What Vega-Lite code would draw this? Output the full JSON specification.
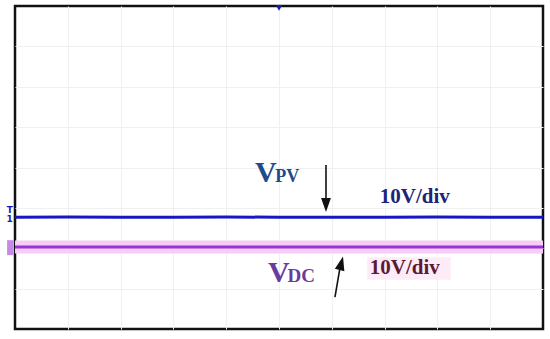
{
  "$schema": "https://vega.github.io/schema/vega-lite/v6.json",
  "width": 528,
  "height": 323,
  "autosize": {"type": "none"},
  "padding": {"left": 15, "top": 6, "right": 7, "bottom": 10},
  "background": "white",
  "config": {
    "view": {"stroke": "#111111", "strokeWidth": 2.5},
    "axis": {"labels": false, "ticks": false, "domain": false, "title": null, "grid": true, "gridColor": "#f0f0f0", "gridWidth": 1}
  },
  "datasets": {
    "traces": [
      {"t": 0.0, "v": 2.77, "ch": "PV"}, {"t": 1.0, "v": 2.772, "ch": "PV"}, {"t": 2.0, "v": 2.768, "ch": "PV"},
      {"t": 3.0, "v": 2.77, "ch": "PV"}, {"t": 4.0, "v": 2.772, "ch": "PV"}, {"t": 5.0, "v": 2.77, "ch": "PV"},
      {"t": 6.0, "v": 2.768, "ch": "PV"}, {"t": 7.0, "v": 2.77, "ch": "PV"}, {"t": 8.0, "v": 2.772, "ch": "PV"},
      {"t": 9.0, "v": 2.77, "ch": "PV"}, {"t": 10.0, "v": 2.77, "ch": "PV"},
      {"t": 0.0, "v": 2.03, "ch": "DC"}, {"t": 1.0, "v": 2.028, "ch": "DC"}, {"t": 2.0, "v": 2.032, "ch": "DC"},
      {"t": 3.0, "v": 2.03, "ch": "DC"}, {"t": 4.0, "v": 2.028, "ch": "DC"}, {"t": 5.0, "v": 2.03, "ch": "DC"},
      {"t": 6.0, "v": 2.032, "ch": "DC"}, {"t": 7.0, "v": 2.03, "ch": "DC"}, {"t": 8.0, "v": 2.028, "ch": "DC"},
      {"t": 9.0, "v": 2.03, "ch": "DC"}, {"t": 10.0, "v": 2.03, "ch": "DC"}
    ],
    "labels": [
      {"x": 4.545, "y": 3.64, "text": "V", "size": 30, "color": "#1f4a8e"},
      {"x": 4.93, "y": 3.64, "text": "PV", "size": 18, "color": "#1f4a8e"},
      {"x": 4.79, "y": 1.16, "text": "V", "size": 30, "color": "#6b3a9e"},
      {"x": 5.16, "y": 1.16, "text": "DC", "size": 19, "color": "#6b3a9e"},
      {"x": 6.91, "y": 3.12, "text": "10V/div", "size": 21, "color": "#1c2478"},
      {"x": 6.72, "y": 1.36, "text": "10V/div", "size": 21, "color": "#5e1a34"}
    ],
    "shafts": [
      {"x": 5.89, "y": 4.06, "x2": 5.89, "y2": 3.15},
      {"x": 6.06, "y": 0.79, "x2": 6.155, "y2": 1.52}
    ],
    "heads": [
      {"x": 5.89, "y": 3.07, "angle": 180},
      {"x": 6.18, "y": 1.63, "angle": 14}
    ]
  },
  "layer": [
    {
      "data": {"values": [{"x": 6.67, "x2": 8.25, "y": 1.78, "y2": 1.22}]},
      "mark": {"type": "rect", "color": "#fdebf8"},
      "encoding": {
        "x": {"field": "x", "type": "quantitative", "scale": {"domain": [0, 10], "nice": false}, "axis": {"values": [1, 2, 3, 4, 5, 6, 7, 8, 9]}},
        "x2": {"field": "x2"},
        "y": {"field": "y", "type": "quantitative", "scale": {"domain": [0, 8], "nice": false}, "axis": {"values": [1, 2, 3, 4, 5, 6, 7]}},
        "y2": {"field": "y2"}
      }
    },
    {
      "data": {"name": "traces"},
      "transform": [{"filter": "datum.ch === 'DC'"}],
      "mark": {"type": "line", "color": "#f8cdf4", "strokeWidth": 13},
      "encoding": {
        "x": {"field": "t", "type": "quantitative"},
        "y": {"field": "v", "type": "quantitative"}
      }
    },
    {
      "data": {"name": "traces"},
      "mark": {"type": "line", "strokeWidth": 3},
      "encoding": {
        "x": {"field": "t", "type": "quantitative"},
        "y": {"field": "v", "type": "quantitative"},
        "detail": {"field": "ch"},
        "color": {"field": "ch", "type": "nominal", "scale": {"domain": ["PV", "DC"], "range": ["#1717c4", "#9a34d6"]}, "legend": null}
      }
    },
    {
      "data": {"name": "shafts"},
      "mark": {"type": "rule", "color": "#111111", "strokeWidth": 1.6},
      "encoding": {
        "x": {"field": "x", "type": "quantitative"},
        "y": {"field": "y", "type": "quantitative"},
        "x2": {"field": "x2"},
        "y2": {"field": "y2"}
      }
    },
    {
      "data": {"name": "heads"},
      "mark": {"type": "point", "shape": "M-0.7,1L0.7,1L0,-1Z", "filled": true, "color": "#111111", "size": 196, "opacity": 1},
      "encoding": {
        "x": {"field": "x", "type": "quantitative"},
        "y": {"field": "y", "type": "quantitative"},
        "angle": {"field": "angle", "type": "quantitative", "scale": null}
      }
    },
    {
      "data": {"name": "labels"},
      "mark": {"type": "text", "font": "Liberation Serif", "fontWeight": "bold", "align": "left", "baseline": "alphabetic"},
      "encoding": {
        "x": {"field": "x", "type": "quantitative"},
        "y": {"field": "y", "type": "quantitative"},
        "text": {"field": "text"},
        "size": {"field": "size", "type": "quantitative", "scale": null},
        "color": {"field": "color", "type": "nominal", "scale": null}
      }
    },
    {
      "data": {"values": [{"x": 5.0, "y": 7.95}]},
      "mark": {"type": "point", "shape": "triangle-down", "filled": true, "color": "#1a1ab8", "size": 40, "opacity": 1},
      "encoding": {
        "x": {"field": "x", "type": "quantitative"},
        "y": {"field": "y", "type": "quantitative"}
      }
    },
    {
      "data": {"values": [{"x": -0.15, "x2": -0.03, "y": 2.2, "y2": 1.83}]},
      "mark": {"type": "rect", "color": "#c88ae8", "clip": false},
      "encoding": {
        "x": {"field": "x", "type": "quantitative"},
        "x2": {"field": "x2"},
        "y": {"field": "y", "type": "quantitative"},
        "y2": {"field": "y2"}
      }
    },
    {
      "data": {"values": [{"x": -0.1, "y": 2.95, "text": "T"}, {"x": -0.1, "y": 2.72, "text": "1"}]},
      "mark": {"type": "text", "color": "#1a1ab8", "fontSize": 9, "fontWeight": "bold", "font": "DejaVu Sans", "clip": false},
      "encoding": {
        "x": {"field": "x", "type": "quantitative"},
        "y": {"field": "y", "type": "quantitative"},
        "text": {"field": "text"}
      }
    }
  ]
}
